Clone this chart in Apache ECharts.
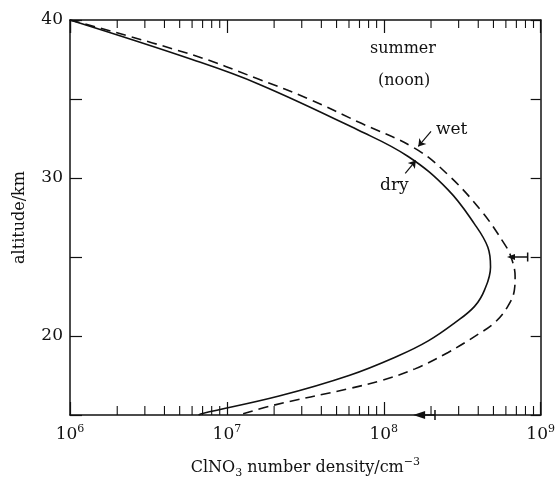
<!DOCTYPE html>
<html>
<head>
<meta charset="utf-8">
<script src="https://cdn.jsdelivr.net/npm/echarts@6/dist/echarts.min.js"></script>
<style>
  html, body { margin: 0; padding: 0; background: #fff; }
  #chart { width: 558px; height: 484px; }
</style>
</head>
<body>
<div id="chart"></div>
<script>
// ClNO3 number density (cm^-3) against altitude (km)
const dryDensity = [1e6, 6.0e6, 1.6e7, 6.9e7, 1.43e8, 2.57e8, 3.79e8, 4.6e8, 4.79e8, 4.39e8, 3.79e8, 2.83e8, 1.92e8, 1.24e8, 6.0e7, 2.15e7, 7.0e6, 6.6e6];
const dryAltitude = [40, 37.5, 35.94, 33.02, 31.36, 29.25, 27.08, 25.63, 24.375, 22.92, 21.875, 20.83, 19.69, 18.75, 17.5, 16.2, 15.1, 15.0];

const wetDensity = [1e6, 6.0e6, 1.6e7, 3.33e7, 6.9e7, 1.58e8, 2.57e8, 4.18e8, 5.87e8, 6.47e8, 6.87e8, 6.8e8, 6.17e8, 5.07e8, 3.98e8, 2.57e8, 1.58e8, 9.7e7, 6.0e7, 1.95e7, 1.2e7];
const wetAltitude = [40, 37.8, 36.25, 35.0, 33.54, 31.875, 30.2, 27.92, 25.83, 25.0, 23.75, 22.92, 21.875, 20.83, 20.1, 18.96, 17.92, 17.19, 16.67, 15.6, 15.0];

// measurement with error bar at 25 km
const obsDensity = 6.47e8;
const obsUpper = 8.26e8;
const obsAltitude = 25;

// arrow on the bottom axis
const axisArrowFrom = 2.12e8;
const axisArrowTo = 1.68e8;

const xDecades = [1e6, 1e7, 1e8];
const minorMultipliers = [2, 3, 4, 5, 6, 7, 8, 9];
const yTickLabels = [20, 30, 40];

const serif = '"DejaVu Serif", "Liberation Serif", serif';

const pairs = (xs, ys) => xs.map((x, i) => [x, ys[i]]);

let minorTicks = [];
xDecades.forEach(d => minorMultipliers.forEach(m => minorTicks.push([d * m, 15])));

const myChart = echarts.init(document.getElementById('chart'));

const option = {
  backgroundColor: '#fff',
  animation: false,
  grid: { left: 70, right: 15, top: 20, bottom: 65 },
  xAxis: [
    {
      type: 'log', logBase: 10, min: 1e6, max: 1e9,
      position: 'bottom',
      axisLine: { lineStyle: { color: '#111', width: 1.5 } },
      axisTick: { inside: true, length: 13, lineStyle: { color: '#111', width: 1.2 } },
      splitLine: { show: false },
      axisLabel: {
        margin: 9,
        color: '#111',
        formatter: v => '{b|10}{e|' + Math.round(Math.log10(v)) + '}',
        rich: {
          b: { fontFamily: serif, fontSize: 17, color: '#111', lineHeight: 22 },
          e: { fontFamily: serif, fontSize: 11, color: '#111', lineHeight: 12, verticalAlign: 'top' }
        }
      },
      name: '{t|ClNO}{s|3}{t| number density/cm}{p|−3}',
      nameLocation: 'middle',
      nameGap: 42,
      nameTextStyle: {
        rich: {
          t: { fontFamily: serif, fontSize: 16, color: '#111', lineHeight: 22 },
          s: { fontFamily: serif, fontSize: 11, color: '#111', lineHeight: 12, verticalAlign: 'bottom', padding: [8, 0, 0, 0] },
          p: { fontFamily: serif, fontSize: 11, color: '#111', lineHeight: 12, verticalAlign: 'top' }
        }
      }
    },
    {
      type: 'log', logBase: 10, min: 1e6, max: 1e9,
      position: 'top',
      axisLine: { lineStyle: { color: '#111', width: 1.5 } },
      axisTick: { inside: true, length: 13, lineStyle: { color: '#111', width: 1.2 } },
      axisLabel: { show: false },
      splitLine: { show: false }
    }
  ],
  yAxis: [
    {
      type: 'value', min: 15, max: 40, interval: 5,
      position: 'left',
      axisLine: { show: true, lineStyle: { color: '#111', width: 1.5 } },
      axisTick: { inside: true, length: 12, lineStyle: { color: '#111', width: 1.2 } },
      splitLine: { show: false },
      axisLabel: {
        margin: 7,
        fontFamily: serif, fontSize: 17, color: '#111',
        formatter: v => yTickLabels.includes(v) ? String(v) : ''
      },
      name: 'altitude/km',
      nameLocation: 'middle',
      nameGap: 42,
      nameTextStyle: { fontFamily: serif, fontSize: 16, color: '#111' }
    },
    {
      type: 'value', min: 15, max: 40, interval: 5,
      position: 'right',
      axisLine: { show: true, lineStyle: { color: '#111', width: 1.5 } },
      axisTick: { inside: true, length: 10, lineStyle: { color: '#111', width: 1.2 } },
      axisLabel: { show: false },
      splitLine: { show: false }
    }
  ],
  series: [
    {
      name: 'dry',
      type: 'line',
      data: pairs(dryDensity, dryAltitude),
      smooth: 0.4,
      showSymbol: false,
      lineStyle: { color: '#111', width: 1.6 },
      markLine: {
        silent: true,
        symbol: ['none', 'arrow'],
        symbolSize: 7,
        lineStyle: { color: '#111', width: 1.2, type: 'solid' },
        label: { show: false },
        data: [
          [{ coord: [1.37e8, 30.3] }, { coord: [1.6e8, 31.1] }],
          [{ coord: [2.0e8, 32.95] }, { coord: [1.66e8, 32.0] }]
        ]
      }
    },
    {
      name: 'wet',
      type: 'line',
      data: pairs(wetDensity, wetAltitude),
      smooth: 0.4,
      showSymbol: false,
      lineStyle: { color: '#111', width: 1.6, type: [10, 6] }
    },
    {
      name: 'observed',
      type: 'line',
      data: [
        { value: [obsDensity, obsAltitude], symbol: 'triangle', symbolSize: [6, 8], symbolRotate: 90 },
        { value: [obsUpper, obsAltitude], symbol: 'rect', symbolSize: [1.5, 9] }
      ],
      showSymbol: true,
      itemStyle: { color: '#111' },
      lineStyle: { color: '#111', width: 1.3 }
    },
    {
      name: 'axisArrow',
      type: 'line',
      data: [
        { value: [axisArrowFrom, 15], symbol: 'rect', symbolSize: [1.5, 10] },
        { value: [axisArrowTo, 15], symbol: 'triangle', symbolSize: [8, 12], symbolRotate: 90 }
      ],
      showSymbol: true,
      clip: false,
      z: 5,
      itemStyle: { color: '#111' },
      lineStyle: { color: '#111', width: 1.5 }
    },
    {
      name: 'minorTicks',
      type: 'custom',
      silent: true,
      clip: false,
      data: minorTicks,
      renderItem: function (params, api) {
        const bottom = api.coord([api.value(0), 15]);
        const top = api.coord([api.value(0), 40]);
        const style = { stroke: '#111', lineWidth: 1.1 };
        return {
          type: 'group',
          children: [
            { type: 'line', shape: { x1: bottom[0], y1: bottom[1], x2: bottom[0], y2: bottom[1] - 9 }, style: style },
            { type: 'line', shape: { x1: top[0], y1: top[1], x2: top[0], y2: top[1] + 8 }, style: style }
          ]
        };
      }
    }
  ],
  graphic: [
    { type: 'text', left: 370, top: 41, style: { text: 'summer', fontFamily: serif, fontSize: 16, fill: '#111' } },
    { type: 'text', left: 378, top: 73, style: { text: '(noon)', fontFamily: serif, fontSize: 16, fill: '#111' } },
    { type: 'text', left: 436, top: 121, style: { text: 'wet', fontFamily: serif, fontSize: 17, fill: '#111' } },
    { type: 'text', left: 380, top: 177, style: { text: 'dry', fontFamily: serif, fontSize: 17, fill: '#111' } }
  ]
};

myChart.setOption(option);

window.addEventListener('resize', function () {
  myChart.resize();
});
</script>
</body>
</html>
